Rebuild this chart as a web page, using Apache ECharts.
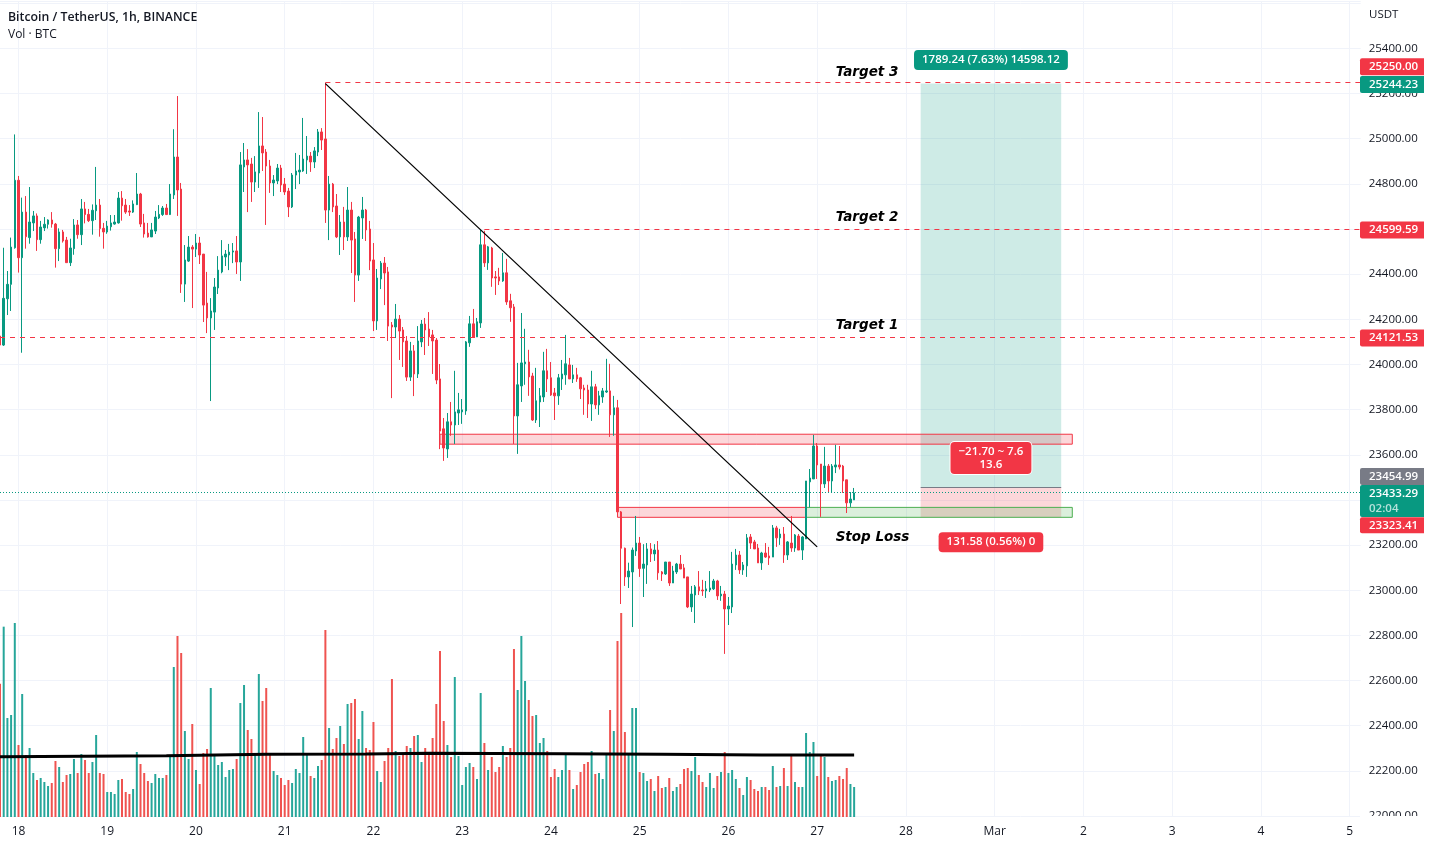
<!DOCTYPE html>
<html>
<head>
    <meta charset="utf-8">
    <title>Bitcoin / TetherUS</title>
    <script src="https://cdn.jsdelivr.net/npm/echarts@6/dist/echarts.min.js"></script>
    <style>html,body{margin:0;padding:0;background:#fff}</style>
</head>
<body>
    <div id="chart" style="width:1429px;height:845px;"></div>
<script>
    // hourly bars, first bar is Feb 17 19:00
    var opens = [
        24126,24086,24291,24355,24517,24816,24473,24675,24562,24627,
        24658,24553,24605,24621,24640,24622,24513,24587,24551,24451,
        24513,24618,24575,24689,24665,24637,24681,24706,24603,24587,
        24610,24622,24627,24737,24706,24680,24675,24708,24755,24627,
        24582,24565,24591,24649,24664,24693,24664,24751,24919,24777,
        24356,24458,24520,24511,24538,24489,24272,24206,24232,24339,
        24410,24476,24485,24498,24503,24454,24875,24906,24888,24808,
        24848,24968,24941,24879,24804,24813,24870,24799,24768,24698,
        24839,24853,24857,24906,24923,24897,24941,25030,24999,24684,
        24799,24702,24565,24631,24565,24684,24556,24396,24649,24684,
        24600,24463,24193,24379,24449,24410,24175,24166,24201,24153,
        24104,23944,24060,23958,24100,24179,24157,24131,24108,23936,
        23715,23626,23746,23732,23785,23790,23794,24096,24180,24122,
        24184,24530,24450,24516,24388,24388,24370,24406,24282,24255,
        23772,23905,24003,24011,23949,23754,23834,23856,23972,23941,
        23874,23861,23936,23954,23998,23936,23954,23941,23896,23887,
        23825,23901,23821,23856,23878,23883,23777,23808,23347,23186,
        23059,23081,23174,23209,23097,23112,23183,23161,23178,23081,
        23072,23125,23032,23081,23116,23099,23059,22926,22979,23015,
        23001,22997,23001,23006,23041,22975,22983,22917,22926,23112,
        23156,23090,23108,23236,23214,23187,23121,23165,23152,23147,
        23276,23232,23249,23156,23209,23187,23240,23178,23227,23480,
        23493,23639,23559,23471,23550,23484,23546,23555,23550,23489,
        23387,23400
    ];
    var closes = [
        24086,24293,24355,24520,24816,24473,24675,24566,24631,24658,
        24553,24609,24621,24640,24622,24513,24587,24547,24451,24516,
        24618,24575,24689,24664,24637,24683,24706,24602,24587,24613,
        24627,24631,24737,24703,24675,24675,24711,24755,24622,24578,
        24565,24596,24653,24665,24693,24664,24755,24919,24773,24356,
        24463,24520,24511,24538,24485,24263,24206,24237,24343,24418,
        24481,24489,24498,24503,24454,24884,24906,24884,24808,24853,
        24968,24937,24879,24804,24817,24870,24795,24764,24698,24839,
        24857,24861,24910,24923,24897,24946,25030,24994,24684,24799,
        24698,24565,24631,24565,24684,24551,24396,24653,24684,24596,
        24458,24193,24383,24449,24405,24170,24166,24201,24148,24100,
        23944,24060,23958,24104,24179,24153,24122,24104,23931,23705,
        23630,23746,23732,23790,23799,23799,24100,24180,24122,24189,
        24530,24450,24521,24383,24383,24370,24406,24277,24251,23772,
        23910,24007,24011,23945,23754,23839,23861,23972,23936,23865,
        23861,23941,23958,24003,23936,23954,23936,23892,23887,23825,
        23901,23821,23861,23883,23883,23777,23808,23347,23186,23059,
        23085,23178,23209,23096,23116,23183,23161,23178,23077,23072,
        23125,23032,23085,23116,23094,23054,22926,22983,23015,22997,
        22997,23006,23010,23041,22975,22983,22917,22930,23116,23156,
        23090,23112,23232,23209,23183,23121,23165,23147,23143,23276,
        23232,23249,23156,23214,23187,23245,23178,23236,23484,23497,
        23639,23555,23471,23550,23484,23550,23555,23546,23484,23387,
        23404,23431
    ];
    var lows = [
        24086,24082,24219,24237,24513,24407,24052,24513,24535,24591,
        24503,24535,24591,24602,24606,24429,24458,24540,24451,24436,
        24486,24557,24529,24625,24631,24575,24640,24566,24513,24579,
        24593,24619,24624,24637,24667,24658,24671,24706,24609,24562,
        24562,24565,24578,24644,24658,24662,24662,24733,24658,24317,
        24277,24454,24250,24476,24445,24188,24139,23838,24153,24312,
        24404,24436,24418,24449,24401,24370,24764,24675,24720,24764,
        24782,24857,24618,24760,24746,24799,24764,24751,24653,24693,
        24777,24799,24853,24844,24853,24870,24923,24950,24627,24551,
        24675,24560,24485,24507,24547,24405,24277,24370,24556,24547,
        24418,24148,24153,24334,24263,24104,23851,24117,24020,23989,
        23927,23927,23860,23940,24077,24042,24082,23958,23913,23625,
        23573,23586,23684,23648,23732,23737,23777,24078,24122,24122,
        24162,24432,24419,24344,24308,24352,24366,24264,24189,23648,
        23604,23834,23910,23861,23750,23741,23723,23834,23878,23861,
        23754,23821,23887,23910,23936,23918,23923,23847,23777,23763,
        23750,23803,23777,23830,23874,23679,23684,23347,22939,23019,
        23010,22837,23152,23059,22970,23028,23125,23130,23046,23041,
        23068,23019,23032,23072,23094,23054,22921,22904,22855,22979,
        22975,22966,22992,23001,22957,22953,22718,22846,22899,23090,
        23072,23068,23059,23183,23183,23121,23090,23143,23112,23147,
        23192,23201,23121,23134,23170,23170,23178,23134,23227,23367,
        23493,23493,23325,23453,23435,23431,23519,23535,23431,23342,
        23369,23400
    ];
    var highs = [
        24140,24517,24414,24562,25019,24835,24739,24746,24786,24680,
        24669,24636,24653,24643,24675,24627,24603,24596,24565,24557,
        24644,24640,24733,24720,24689,24709,24875,24733,24627,24636,
        24662,24662,24764,24768,24733,24706,24727,24848,24760,24667,
        24627,24627,24680,24706,24702,24711,24799,25042,25189,24804,
        24529,24569,24529,24578,24565,24489,24410,24294,24383,24480,
        24551,24507,24534,24538,24569,24941,24981,24954,24915,24923,
        25118,25096,24954,24906,24839,24888,24884,24826,24782,24848,
        24937,24928,25092,25012,24941,24963,25043,25047,25248,24835,
        24804,24755,24662,24698,24786,24720,24587,24658,24742,24689,
        24636,24538,24423,24458,24476,24432,24188,24268,24219,24166,
        24126,24100,24086,24170,24197,24206,24232,24153,24117,24002,
        23763,23785,23834,23972,23874,23847,24104,24215,24246,24206,
        24596,24592,24525,24521,24414,24428,24494,24468,24313,24268,
        24007,24228,24158,24065,23963,23985,23896,24056,24069,24011,
        23896,23958,24020,24131,24029,23998,23985,23945,23910,23910,
        23972,23914,23883,23896,24025,24003,23861,23843,23351,23189,
        23122,23189,23329,23236,23204,23209,23209,23204,23218,23085,
        23125,23125,23108,23121,23156,23116,23059,23019,23023,23085,
        23046,23041,23085,23050,23046,23019,22997,22970,23170,23183,
        23174,23125,23249,23249,23223,23205,23170,23209,23192,23289,
        23285,23272,23280,23218,23329,23249,23249,23240,23484,23537,
        23688,23652,23559,23635,23559,23559,23644,23639,23555,23489,
        23435,23453
    ];
    var volumes = [
        400,571,297,306,582,216,369,186,207,132,
        111,117,105,93,102,168,150,105,126,129,
        174,132,189,171,132,165,246,132,129,75,
        75,69,111,114,75,69,84,195,159,132,
        108,102,129,117,117,126,181,450,543,492,
        258,174,279,141,99,192,204,387,183,156,
        165,120,141,144,174,342,396,261,234,186,
        429,348,387,186,138,126,117,96,111,102,
        144,132,240,186,123,117,153,171,561,267,
        204,237,273,219,339,342,354,234,318,207,
        201,285,138,105,168,207,414,198,183,189,
        213,207,243,246,165,207,189,237,339,498,
        288,216,180,420,183,96,150,162,150,114,
        372,222,141,180,135,150,213,180,207,504,
        381,543,408,351,303,306,222,237,198,120,
        144,120,141,189,141,84,96,135,159,165,
        198,129,132,114,189,321,258,528,612,255,
        189,327,327,135,132,108,114,78,123,87,
        90,117,78,90,99,144,147,138,180,126,
        105,90,132,87,123,135,195,132,141,114,
        87,66,120,111,84,78,90,90,81,153,
        90,93,147,93,186,105,90,90,252,195,
        225,123,186,180,120,108,111,123,114,147,
        99,90
    ];
    // hand drawn average line over the volume
    var avgBars = [0, 45, 72, 99, 116, 152, 179, 206, 231];
    var avgValues = [181, 184, 188, 189, 191, 190, 188, 186, 186];

    var dayLabels = ['18','19','20','21','22','23','24','25','26','27','28','Mar','2','3','4','5'];
    var firstDayBar = 5, barsPerDay = 24, barCount = 369;

    var tagPrices = [25250.00, 25244.23, 24599.59, 24121.53, 23454.99, 23433.29, 23323.41];
    var tagTexts = ['25250.00', '25244.23', '24599.59', '24121.53', '23454.99', '{p|23433.29}\n{t|02:04}', '23323.41'];

    var noteTexts = ['Target 3', 'Target 2', 'Target 1', 'Stop Loss'];
    var noteBars = [226, 226, 226, 226];
    var notePrices = [25292, 24650, 24171, 23232];

    var pillTexts = ['1789.24 (7.63%) 14598.12', '\u221221.70 ~ 7.6\n13.6', '131.58 (0.56%) 0'];
    var pillBars = [268, 268, 268];
    var pillPrices = [25349, 23586, 23213];

    var GREEN = '#089981', RED = '#F23645', GRAY = '#787B86', TEXT = '#131722', GRID = '#F0F3FA';
    var FONT = '"Open Sans", sans-serif';

    var tagColors = [RED, GREEN, RED, RED, GRAY, GREEN, RED];
    var tagShift = [-15.5, 1, 1, 1, -11, 8.5, 8];
    var tagHeight = [17, 17, 17, 17, 17, 32, 16];
    var pillColors = [GREEN, RED, RED];

    var categories = [];
    for (var i = 0; i < barCount; i++) categories.push('');
    dayLabels.forEach(function (d, n) { categories[firstDayBar + n * barsPerDay] = d; });
    function isDay(idx) { return idx >= firstDayBar && (idx - firstDayBar) % barsPerDay === 0; }

    var candleData = opens.map(function (o, n) { return [o, closes[n], lows[n], highs[n]]; });
    var volumeData = volumes.map(function (v, n) {
        return { value: v, itemStyle: { color: closes[n] >= opens[n] ? '#26A69A' : '#EF5350' } };
    });
    var avgData = avgBars.map(function (b, n) { return [b, avgValues[n]]; });

    function hline(price, from, to, color, type) {
        return [
            { xAxis: from, yAxis: price, lineStyle: { color: color, type: type, width: 1 } },
            { xAxis: to, yAxis: price }
        ];
    }
    function zone(x0, x1, top, bottom, fill, border) {
        return [
            { xAxis: x0, yAxis: top, itemStyle: { color: fill, borderColor: border, borderWidth: border ? 1 : 0 } },
            { xAxis: x1, yAxis: bottom }
        ];
    }

    var chart = echarts.init(document.getElementById('chart'));
    chart.setOption({
        animation: false,
        backgroundColor: '#fff',
        title: {
            text: 'Bitcoin / TetherUS, 1h, BINANCE',
            subtext: 'Vol \u00b7 BTC',
            left: 8, top: 11, padding: 0, itemGap: 6,
            textStyle: { fontFamily: FONT, fontSize: 12.3, fontWeight: 600, color: TEXT },
            subtextStyle: { fontFamily: FONT, fontSize: 12, color: TEXT }
        },
        grid: [
            { left: -1.3, top: 1, width: 1362, height: 815 },
            { left: -1.3, top: 0, width: 1362, height: 817 }
        ],
        xAxis: [
            {
                type: 'category', data: categories, boundaryGap: false,
                axisLine: { show: false }, axisTick: { show: false },
                axisLabel: { interval: function (idx) { return isDay(idx); }, margin: 10, fontFamily: FONT, fontSize: 12, color: TEXT, hideOverlap: false },
                splitLine: { show: true, interval: function (idx) { return isDay(idx); }, lineStyle: { color: GRID, width: 1 } }
            },
            { type: 'category', gridIndex: 1, data: categories, boundaryGap: false, show: false }
        ],
        yAxis: [
            {
                type: 'value', position: 'right', min: 22000, max: 25610, interval: 200,
                axisLine: { show: false }, axisTick: { show: false },
                axisLabel: {
                    margin: 8, fontFamily: FONT, fontSize: 11.5, color: TEXT,
                    formatter: function (v) { return v > 25400 ? '' : v.toFixed(2); }
                },
                splitLine: { lineStyle: { color: GRID, width: 1 } }
            },
            { type: 'value', gridIndex: 1, min: 0, max: 2451, show: false, splitLine: { show: false } }
        ],
        series: [
            {
                type: 'bar', name: 'Vol', xAxisIndex: 1, yAxisIndex: 1, data: volumeData,
                barWidth: 2, z: 1, silent: true
            },
            {
                type: 'line', xAxisIndex: 1, yAxisIndex: 1, data: avgData, symbol: 'none',
                lineStyle: { color: '#000', width: 3 }, z: 5, silent: true
            },
            {
                type: 'candlestick', name: 'BTCUSDT', data: candleData, barWidth: 2, z: 3, silent: true,
                itemStyle: { color: GREEN, color0: RED, borderColor: GREEN, borderColor0: RED, borderWidth: 1 },
                markLine: {
                    silent: true, symbol: 'none', label: { show: false }, animation: false, z: 4,
                    data: [
                        hline(25250.00, 88, 368, RED, [5, 5]),
                        hline(24599.59, 131, 368, RED, [5, 5]),
                        hline(24121.53, 0, 368, RED, [5, 5]),
                        hline(23433.29, 0, 368, GREEN, [1, 2]),
                        hline(23454.99, 249, 287, GRAY, 'solid'),
                        [
                            { xAxis: 88, yAxis: 25244, lineStyle: { color: '#000', type: 'solid', width: 1.3 } },
                            { xAxis: 221, yAxis: 23192 }
                        ]
                    ]
                },
                markArea: {
                    silent: true, animation: false, z: 2,
                    data: [
                        zone(249, 287, 25244.23, 23454.99, 'rgba(8,153,129,0.2)'),
                        zone(249, 287, 23454.99, 23323.41, 'rgba(242,54,69,0.2)'),
                        zone(119, 290, 23691, 23647, 'rgba(242,54,69,0.2)', RED),
                        zone(167, 218, 23367, 23323, 'rgba(242,54,69,0.2)', RED),
                        zone(218, 290, 23367, 23323, 'rgba(76,175,80,0.2)', '#4CAF50')
                    ]
                }
            },
            {
                type: 'custom', z: 6, silent: true,
                data: noteBars.map(function (b, n) { return [b, notePrices[n], n]; }),
                encode: { x: 0, y: 1 },
                renderItem: function (params, api) {
                    var p = api.coord([api.value(0), api.value(1)]);
                    return {
                        type: 'text', x: p[0], y: p[1],
                        style: {
                            text: noteTexts[api.value(2)], fill: '#000', align: 'left', verticalAlign: 'middle',
                            font: 'italic bold 13.5px "DejaVu Sans", sans-serif'
                        }
                    };
                }
            },
            {
                type: 'custom', z: 6, silent: true,
                data: pillBars.map(function (b, n) { return [b, pillPrices[n], n]; }),
                encode: { x: 0, y: 1 },
                renderItem: function (params, api) {
                    var p = api.coord([api.value(0), api.value(1)]), n = api.value(2);
                    return {
                        type: 'text', x: p[0], y: p[1],
                        style: {
                            text: pillTexts[n], fill: '#fff', align: 'center', verticalAlign: 'middle',
                            font: '600 11.5px ' + FONT, lineHeight: 13,
                            backgroundColor: pillColors[n], borderRadius: 4,
                            borderColor: n === 1 ? '#fff' : null, borderWidth: n === 1 ? 1 : 0,
                            padding: n === 1 ? [3, 8, 3, 8] : [4, 8, 3, 8]
                        }
                    };
                }
            },
            {
                type: 'custom', z: 7, silent: true,
                data: tagPrices.map(function (v, n) { return [0, v, n]; }),
                encode: { x: 0, y: 1 },
                renderItem: function (params, api) {
                    var n = api.value(2);
                    var y = api.coord([0, api.value(1)])[1] + tagShift[n];
                    var h = tagHeight[n];
                    return {
                        type: 'group',
                        children: [
                            { type: 'rect', shape: { x: 1360, y: y - h / 2, width: 64, height: h, r: [2, 0, 0, 2] }, style: { fill: tagColors[n] } },
                            {
                                type: 'text', x: 1369, y: y,
                                style: {
                                    text: tagTexts[n], fill: '#fff', align: 'left', verticalAlign: 'middle',
                                    font: '600 11.5px ' + FONT, lineHeight: 15,
                                    rich: {
                                        p: { fill: '#fff', font: '600 11.5px ' + FONT, lineHeight: 15 },
                                        t: { fill: 'rgba(255,255,255,0.7)', font: '600 11.5px ' + FONT, lineHeight: 15 }
                                    }
                                }
                            }
                        ]
                    };
                }
            }
        ],
        graphic: [
            { type: 'rect', z: 100, silent: true, shape: { x: 1360, y: 816, width: 69, height: 29 }, style: { fill: '#fff' } },
            { type: 'text', z: 101, silent: true, x: 1369, y: 9, style: { text: 'USDT', fill: TEXT, font: '11.5px ' + FONT } }
        ]
    });
</script>
</body>
</html>
